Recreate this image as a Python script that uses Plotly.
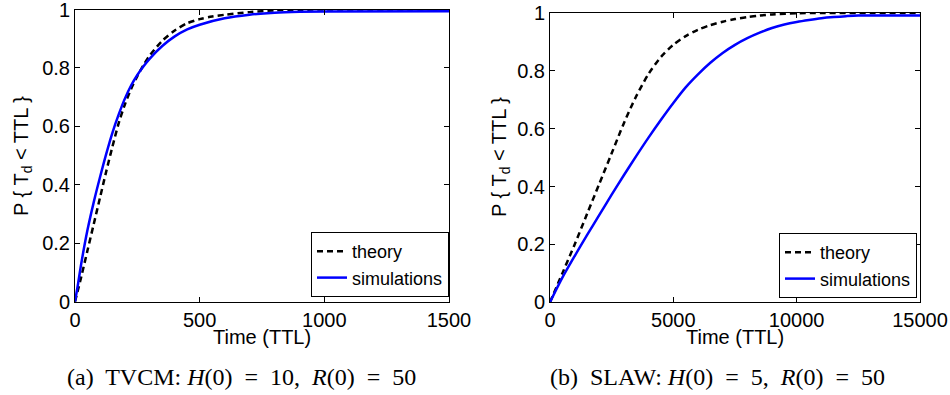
import plotly.graph_objects as go

# ---------------- data ----------------
a_theory_t = [0, 25, 50, 75, 100, 125, 150, 175, 200, 225, 250, 275, 300, 350, 400, 450, 500, 550, 600, 700, 800, 900, 1000, 1500]
a_theory_p = [0, 0.085, 0.175, 0.265, 0.355, 0.445, 0.53, 0.61, 0.675, 0.728, 0.772, 0.81, 0.843, 0.893, 0.928, 0.953, 0.967, 0.976, 0.982, 0.991, 0.997, 0.999, 1.0, 1.0]
a_sim_t = [0, 12, 25, 50, 75, 100, 125, 150, 175, 200, 225, 250, 275, 300, 350, 400, 450, 500, 600, 700, 800, 900, 1000, 1500]
a_sim_p = [0, 0.06, 0.13, 0.245, 0.34, 0.425, 0.505, 0.578, 0.64, 0.695, 0.74, 0.776, 0.806, 0.832, 0.875, 0.908, 0.932, 0.948, 0.97, 0.982, 0.989, 0.992, 0.993, 0.994]

b_theory_t = [0, 500, 1000, 1500, 2000, 2500, 3000, 3500, 4000, 4500, 5000, 5500, 6000, 6500, 7000, 7500, 8000, 8500, 9000, 10000, 11000, 15000]
b_theory_p = [0, 0.1, 0.2, 0.305, 0.41, 0.515, 0.62, 0.713, 0.79, 0.848, 0.89, 0.92, 0.942, 0.958, 0.97, 0.979, 0.986, 0.991, 0.995, 0.999, 1.0, 1.0]
b_sim_t = [0, 500, 1000, 1500, 2000, 2500, 3000, 3500, 4000, 4500, 5000, 5500, 6000, 6500, 7000, 7500, 8000, 8500, 9000, 9500, 10000, 10500, 11000, 11500, 12000, 12500, 15000]
b_sim_p = [0, 0.085, 0.16, 0.232, 0.302, 0.372, 0.44, 0.506, 0.57, 0.631, 0.689, 0.743, 0.788, 0.828, 0.862, 0.89, 0.913, 0.932, 0.948, 0.96, 0.969, 0.976, 0.982, 0.986, 0.989, 0.991, 0.991]

y_ticks = [0, 0.2, 0.4, 0.6, 0.8, 1]
y_ticktext = ["0", "0.2", "0.4", "0.6", "0.8", "1"]
a_xticks = [0, 500, 1000, 1500]
a_xticktext = ["0", "500", "1000", "1500"]
b_xticks = [0, 5000, 10000, 15000]
b_xticktext = ["0", "5000", "10000", "15000"]

series_names = ["theory", "simulations"]
x_title = "Time (TTL)"
y_title = "P { T<sub>d</sub> &lt; TTL }"
caption_a = "(a)&nbsp; TVCM: <i>H</i>(0)&nbsp; =&nbsp; 10,&nbsp; <i>R</i>(0)&nbsp; =&nbsp; 50"
caption_b = "(b)&nbsp; SLAW: <i>H</i>(0)&nbsp; =&nbsp; 5,&nbsp; <i>R</i>(0)&nbsp; =&nbsp; 50"

# ---------------- figure ----------------
W, H = 950, 395
SANS = "Liberation Sans, Arial, Helvetica, sans-serif"
SERIF = "Liberation Serif, Times New Roman, serif"

dash_style = dict(color="black", width=2.5, dash="6px,4px")
sim_style = dict(color="#0000ff", width=2.5)

fig = go.Figure()
fig.add_trace(go.Scatter(x=a_theory_t, y=a_theory_p, mode="lines", name=series_names[0],
                         line=dict(**dash_style, shape="spline", smoothing=0.8),
                         xaxis="x", yaxis="y", legend="legend"))
fig.add_trace(go.Scatter(x=a_sim_t, y=a_sim_p, mode="lines", name=series_names[1],
                         line=dict(**sim_style, shape="spline", smoothing=0.8),
                         xaxis="x", yaxis="y", legend="legend"))
fig.add_trace(go.Scatter(x=b_theory_t, y=b_theory_p, mode="lines", name=series_names[0],
                         line=dict(**dash_style, shape="spline", smoothing=0.8),
                         xaxis="x2", yaxis="y2", legend="legend2"))
fig.add_trace(go.Scatter(x=b_sim_t, y=b_sim_p, mode="lines", name=series_names[1],
                         line=dict(**sim_style, shape="spline", smoothing=0.8),
                         xaxis="x2", yaxis="y2", legend="legend2"))

def px_x(v):
    return v / W

def px_y(v):
    return (H - v) / H

axis_common = dict(showline=True, linecolor="black", linewidth=1, mirror="ticks",
                   ticks="inside", ticklen=5, tickcolor="black", showgrid=False,
                   zeroline=False, tickfont=dict(family=SANS, size=20, color="black"),
                   exponentformat="none", automargin=False, ticklabeloverflow="allow")

legend_common = dict(xanchor="right", yanchor="bottom", bgcolor="white",
                     bordercolor="black", borderwidth=1,
                     font=dict(family=SANS, size=18, color="black"),
                     itemwidth=30, tracegroupgap=0)

fig.update_layout(
    width=W, height=H,
    margin=dict(l=0, r=0, t=0, b=0, autoexpand=False),
    paper_bgcolor="white", plot_bgcolor="white",
    xaxis=dict(domain=[px_x(75), px_x(449)], range=[0, 1500], anchor="y",
               tickvals=a_xticks, ticktext=a_xticktext, **axis_common),
    yaxis=dict(domain=[px_y(301.7), px_y(9.5)], range=[0, 1], anchor="x",
               tickvals=y_ticks, ticktext=y_ticktext, **axis_common),
    xaxis2=dict(domain=[px_x(550), px_x(920)], range=[0, 15000], anchor="y2",
                tickvals=b_xticks, ticktext=b_xticktext, **axis_common),
    yaxis2=dict(domain=[px_y(302.3), px_y(13)], range=[0, 1], anchor="x2",
                tickvals=y_ticks, ticktext=y_ticktext, **axis_common),
    legend=dict(x=px_x(449), y=px_y(297), **legend_common),
    legend2=dict(x=px_x(917), y=px_y(298), **legend_common),
    showlegend=True,
)

ann_font = dict(family=SANS, size=20, color="black")
cap_font = dict(family=SERIF, size=24, color="black")
annotations = [
    dict(text=x_title, x=px_x(262), y=px_y(337), xref="paper", yref="paper",
         xanchor="center", yanchor="middle", showarrow=False, font=ann_font),
    dict(text=x_title, x=px_x(735), y=px_y(337), xref="paper", yref="paper",
         xanchor="center", yanchor="middle", showarrow=False, font=ann_font),
    dict(text=y_title, x=px_x(22), y=px_y(156), xref="paper", yref="paper",
         xanchor="center", yanchor="middle", showarrow=False, font=ann_font, textangle=-90),
    dict(text=y_title, x=px_x(500), y=px_y(157), xref="paper", yref="paper",
         xanchor="center", yanchor="middle", showarrow=False, font=ann_font, textangle=-90),
    dict(text=caption_a, x=px_x(241), y=px_y(377), xref="paper", yref="paper",
         xanchor="center", yanchor="middle", showarrow=False, font=cap_font),
    dict(text=caption_b, x=px_x(717), y=px_y(377), xref="paper", yref="paper",
         xanchor="center", yanchor="middle", showarrow=False, font=cap_font),
]
fig.update_layout(annotations=annotations)

fig.write_html("out.html", config={"displayModeBar": False},
               post_script="document.body.style.margin='0';")
